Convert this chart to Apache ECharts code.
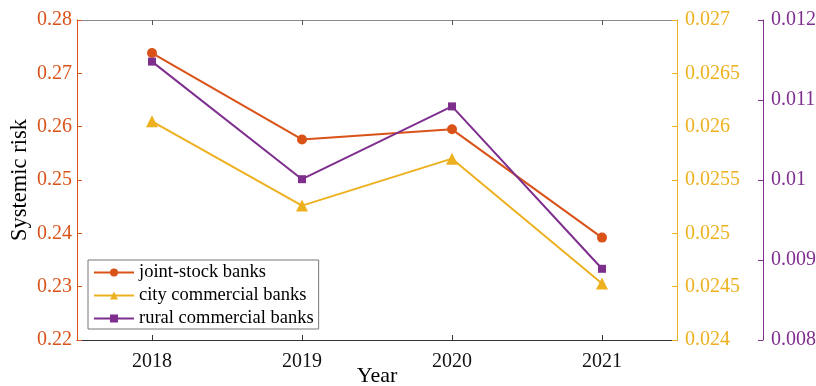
<!DOCTYPE html>
<html>
<head>
<meta charset="utf-8">
<script src="https://cdn.jsdelivr.net/npm/echarts@6/dist/echarts.min.js"></script>
<style>
  html, body { margin: 0; padding: 0; background: #fff; }
  #chart { width: 816px; height: 386px; }
</style>
</head>
<body>
<div id="chart"></div>
<script>
// Years on the x axis
const years = ['2018', '2019', '2020', '2021'];

// Systemic risk by bank type (each on its own y axis)
const jointStock = [0.2738, 0.2576, 0.2595, 0.2392];
const cityCommercial = [0.02605, 0.02526, 0.0257, 0.02453];
const ruralCommercial = [0.01148, 0.01001, 0.01092, 0.00889];

const seriesNames = ['joint-stock banks', 'city commercial banks', 'rural commercial banks'];

const ORANGE = '#D95319';
const YELLOW = '#EDB120';
const PURPLE = '#7E2F8E';
const FONT = '"Liberation Serif", "Times New Roman", serif';

const chart = echarts.init(document.getElementById('chart'), null, { renderer: 'canvas' });

function yAxis(color, min, max, interval, position, offset, decimals) {
  return {
    type: 'value',
    position: position,
    offset: offset,
    min: min,
    max: max,
    interval: interval,
    axisLine: { show: true, lineStyle: { color: color, width: 1 } },
    axisTick: { show: true, inside: true, length: 5, lineStyle: { color: color } },
    axisLabel: {
      color: color, fontFamily: FONT, fontSize: 20, margin: position === 'left' ? 5 : 8,
      formatter: v => String(parseFloat(v.toFixed(decimals)))
    },
    splitLine: { show: false }
  };
}

const option = {
  animation: false,
  backgroundColor: '#fff',
  grid: { left: 77, right: 139, top: 20, bottom: 46, containLabel: false, outerBoundsMode: 'none' },
  legend: {
    orient: 'vertical',
    left: 88,
    top: 260,
    padding: [3, 5, 1, 5],
    itemGap: 4,
    itemWidth: 40,
    itemHeight: 10,
    backgroundColor: '#fff',
    borderColor: '#777',
    borderWidth: 1,
    borderRadius: 0,
    textStyle: { fontFamily: FONT, fontSize: 18.5, color: '#000', lineHeight: 18 },
    data: seriesNames
  },
  xAxis: [
    {
      type: 'category',
      data: years,
      boundaryGap: true,
      position: 'bottom',
      name: 'Year',
      nameLocation: 'middle',
      nameGap: 25,
      nameMoveOverlap: false,
      nameTextStyle: { fontFamily: FONT, fontSize: 22, color: '#000' },
      axisLine: { show: true, lineStyle: { color: '#333', width: 1 } },
      axisTick: { show: true, inside: true, length: 5, alignWithLabel: true, lineStyle: { color: '#333' } },
      axisLabel: { fontFamily: FONT, fontSize: 20, color: '#111', margin: 12 },
      splitLine: { show: false }
    },
    {
      type: 'category',
      data: years,
      boundaryGap: true,
      position: 'top',
      axisLine: { show: true, lineStyle: { color: '#8a8a8a', width: 1 } },
      axisTick: { show: true, inside: true, length: 5, alignWithLabel: true, lineStyle: { color: '#555' } },
      axisLabel: { show: false },
      splitLine: { show: false }
    }
  ],
  yAxis: [
    Object.assign(yAxis(ORANGE, 0.22, 0.28, 0.01, 'left', 0, 2), {
      name: 'Systemic risk',
      nameLocation: 'middle',
      nameGap: 45,
      nameMoveOverlap: false,
      nameRotate: 90,
      nameTextStyle: { fontFamily: FONT, fontSize: 22.5, color: '#000' }
    }),
    yAxis(YELLOW, 0.024, 0.027, 0.0005, 'right', 0, 4),
    yAxis(PURPLE, 0.008, 0.012, 0.001, 'right', 86, 3)
  ],
  series: [
    {
      name: seriesNames[0], type: 'line', yAxisIndex: 0, data: jointStock,
      symbol: 'circle', symbolSize: 10,
      lineStyle: { color: ORANGE, width: 2 },
      itemStyle: { color: ORANGE }
    },
    {
      name: seriesNames[1], type: 'line', yAxisIndex: 1, data: cityCommercial,
      symbol: 'triangle', symbolSize: 12,
      lineStyle: { color: YELLOW, width: 2 },
      itemStyle: { color: YELLOW }
    },
    {
      name: seriesNames[2], type: 'line', yAxisIndex: 2, data: ruralCommercial,
      symbol: 'rect', symbolSize: 8,
      lineStyle: { color: PURPLE, width: 2 },
      itemStyle: { color: PURPLE }
    }
  ]
};

chart.setOption(option);
</script>
</body>
</html>
